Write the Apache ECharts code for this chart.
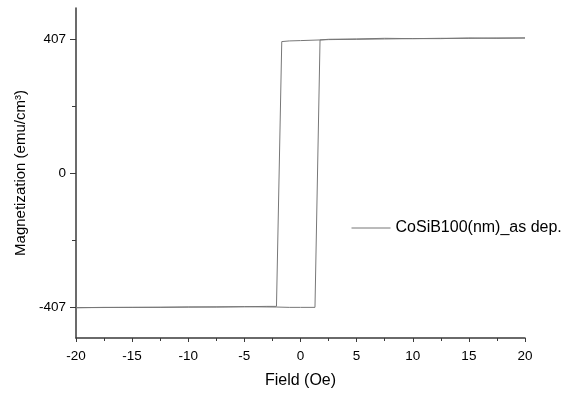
<!DOCTYPE html>
<html>
<head>
<meta charset="utf-8">
<script src="https://cdn.jsdelivr.net/npm/echarts@6/dist/echarts.min.js"></script>
<style>
  html, body { margin: 0; padding: 0; background: #fff; }
  #chart { width: 568px; height: 394px; }
</style>
</head>
<body>
<div id="chart"></div>
<script>
// descending branch (+20 -> -20) then ascending branch (-20 -> +20)
const fieldDown = [20, 17.5, 15, 12.5, 10, 7.5, 5, 2.5, 1.74, 0, -1, -1.67, -2.14, -3, -5, -7.5, -10, -12.5, -15, -17.5, -20];
const magDown = [410, 409, 410, 408, 408, 409, 407, 406, 404, 402, 401, 399, -405, -405, -406, -407, -407, -408, -408, -408, -409];
const fieldUp = [-20, -15, -10, -5, -2.14, -1, 0, 1.29, 1.74, 2.5, 5, 7.5, 10, 12.5, 15, 17.5, 20];
const magUp = [-409, -408, -407, -406, -407, -408, -408, -408, 404, 405, 406, 407, 408, 409, 409, 410, 410];

const xTicks = [-20, -15, -10, -5, 0, 5, 10, 15, 20];
const yLabels = [-407, 0, 407];
const yMinor = [-203.5, 203.5];

const seriesName = "CoSiB100(nm)_as dep.";

const loop = [];
fieldDown.forEach((f, i) => loop.push([f, magDown[i]]));
fieldUp.forEach((f, i) => loop.push([f, magUp[i]]));

const font = "'Liberation Sans', Arial, sans-serif";
const axisColor = "#3a3a3a";

const chart = echarts.init(document.getElementById("chart"));

chart.setOption({
  animation: false,
  textStyle: { fontFamily: font, color: "#000" },
  grid: { left: 76, right: 43, top: 8, bottom: 55 },
  legend: {
    left: 346,
    top: 215,
    itemWidth: 39,
    itemHeight: 14,
    itemGap: 6,
    itemStyle: { opacity: 0 },
    lineStyle: { color: "#777", width: 1 },
    textStyle: { fontFamily: font, fontSize: 16, color: "#000" },
    data: [seriesName]
  },
  xAxis: {
    type: "value",
    min: -20,
    max: 20,
    interval: 5,
    name: "Field (Oe)",
    nameLocation: "middle",
    nameGap: 35,
    nameTextStyle: { fontFamily: font, fontSize: 16, color: "#000" },
    splitLine: { show: false },
    axisLine: { show: true, onZero: false, lineStyle: { color: axisColor, width: 1.5 } },
    axisTick: { show: true, inside: false, length: 4, lineStyle: { color: axisColor } },
    minorTick: { show: true, splitNumber: 2, length: 3, lineStyle: { color: axisColor } },
    axisLabel: {
      margin: 11,
      fontSize: 13.5,
      color: "#000",
      fontFamily: font,
      formatter: v => (xTicks.includes(v) ? String(v) : "")
    }
  },
  yAxis: [
    {
      type: "value",
      min: -501,
      max: 501,
      name: "Magnetization (emu/cm³)",
      nameLocation: "middle",
      nameGap: 44,
      nameTextStyle: { fontFamily: font, fontSize: 15, color: "#000" },
      splitLine: { show: false },
      axisLine: { show: true, onZero: false, lineStyle: { color: axisColor, width: 1.5 } },
      axisTick: { show: true, inside: false, length: 6, customValues: yLabels, lineStyle: { color: axisColor } },
      axisLabel: { margin: 10, fontSize: 13.5, color: "#000", fontFamily: font, customValues: yLabels }
    },
    {
      type: "value",
      position: "left",
      min: -501,
      max: 501,
      splitLine: { show: false },
      axisLine: { show: false, onZero: false },
      axisTick: { show: true, inside: false, length: 4, customValues: yMinor, lineStyle: { color: axisColor } },
      axisLabel: { show: false, customValues: yMinor }
    }
  ],
  series: [
    {
      name: seriesName,
      type: "line",
      data: loop,
      symbol: "none",
      lineStyle: { color: "#777", width: 1 },
      itemStyle: { color: "#777" }
    }
  ]
});
</script>
</body>
</html>
